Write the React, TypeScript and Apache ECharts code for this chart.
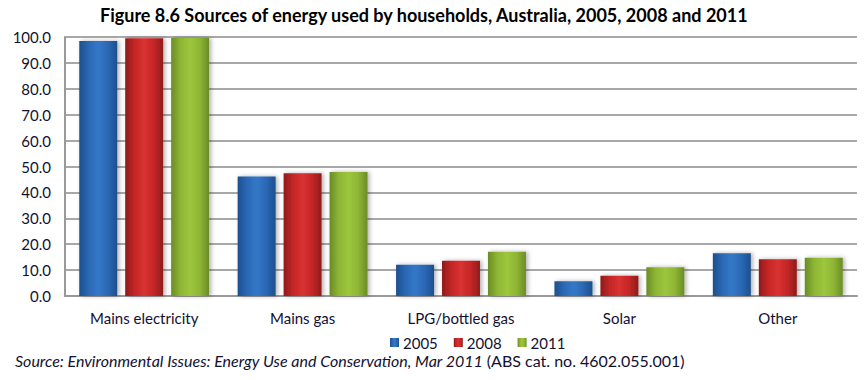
import React, { useEffect, useRef } from "react";
import * as echarts from "echarts";

const categories = ["Mains electricity", "Mains gas", "LPG/bottled gas", "Solar", "Other"];
const years = ["2005", "2008", "2011"];
const v2005 = [98.5, 46.1, 12.1, 5.7, 16.5];
const v2008 = [99.5, 47.4, 13.6, 7.8, 14.2];
const v2011 = [99.6, 47.9, 17.1, 11.1, 14.8];
const yTicks = { min: 0, max: 100, interval: 10 };

const FONT = "Lato, 'Open Sans', sans-serif";
const TEXT = "#111133";

function grad(edge: string, mid: string, light: string) {
  return new echarts.graphic.LinearGradient(0, 0, 1, 0, [
    { offset: 0, color: edge },
    { offset: 0.25, color: mid },
    { offset: 0.5, color: light },
    { offset: 0.75, color: mid },
    { offset: 1, color: edge },
  ]);
}

export default function App() {
  const ref = useRef<HTMLDivElement>(null);
  useEffect(() => {
    if (!ref.current) return;
    const chart = echarts.init(ref.current, undefined, { renderer: "svg" });
    const colors = [
      grad("#1d4f8c", "#2b68b5", "#3478c8"),
      grad("#8f1c1c", "#c52626", "#d93232"),
      grad("#6a8c26", "#8fb634", "#9cc63c"),
    ];
    const legendColors = ["#2a64ad", "#b82424", "#86ab32"];
    const data = [v2005, v2008, v2011];
    chart.setOption({
      animation: false,
      title: {
        text: "Figure 8.6 Sources of energy used by households, Australia, 2005, 2008 and 2011",
        left: 95,
        top: 1,
        textStyle: { fontFamily: FONT, fontWeight: "bold", fontSize: 18, color: "#000" },
      },
      grid: { left: 65, right: 9, top: 37, bottom: 84, containLabel: false },
      legend: {
        data: years,
        top: 330,
        left: 385,
        itemWidth: 9,
        itemHeight: 9,
        itemGap: 16,
        icon: "rect",
        textStyle: { fontFamily: FONT, fontSize: 15, color: TEXT, padding: [0, 0, 0, -1] },
      },
      xAxis: {
        type: "category",
        data: categories,
        axisLine: { lineStyle: { color: "#999", width: 2 } },
        axisTick: { show: false },
        axisLabel: { fontFamily: FONT, fontSize: 15, color: TEXT, margin: 14 },
      },
      yAxis: {
        type: "value",
        min: yTicks.min,
        max: yTicks.max,
        interval: yTicks.interval,
        axisLine: { show: true, lineStyle: { color: "#999", width: 2 } },
        axisTick: { show: false },
        splitLine: { lineStyle: { color: "#a8a8a8", width: 2 } },
        axisLabel: {
          fontFamily: FONT,
          fontSize: 15,
          color: TEXT,
          margin: 14,
          formatter: (v: number) => v.toFixed(1),
        },
      },
      series: years.map((y, i) => ({
        name: y,
        type: "bar",
        data: data[i],
        barGap: "21%",
        barCategoryGap: "18%",
        color: legendColors[i],
        itemStyle: {
          color: colors[i],
          shadowColor: "rgba(0,0,0,0.3)",
          shadowBlur: 4,
          shadowOffsetX: 2,
          shadowOffsetY: 0,
        },
      })),
      graphic: [
        {
          type: "text",
          left: 15,
          top: 352,
          style: {
            text: "{i|Source: Environmental Issues: Energy Use and Conservation, Mar 2011} {n|(ABS cat. no. 4602.055.001)}",
            rich: {
              i: { fontFamily: FONT, fontStyle: "italic", fontSize: 16, lineHeight: 20, fill: TEXT },
              n: { fontFamily: FONT, fontSize: 16, lineHeight: 20, fill: TEXT },
            },
          },
        },
      ],
    });
    return () => chart.dispose();
  }, []);
  return <div ref={ref} style={{ width: 866, height: 380, margin: -8 }} />;
}
